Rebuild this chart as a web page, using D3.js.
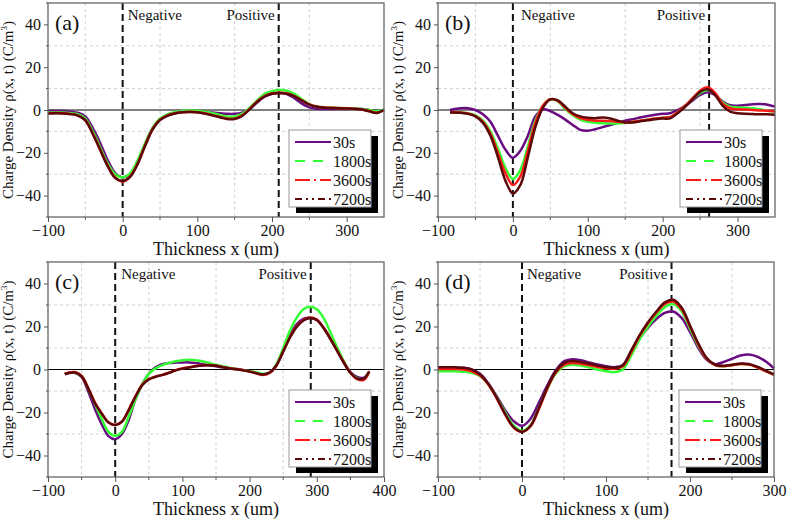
<!DOCTYPE html>
<html>
<head>
<meta charset="utf-8">
<script src="https://cdn.jsdelivr.net/npm/d3@7"></script>
<style>
  html, body { margin: 0; padding: 0; background: #fff; }
  svg { display: block; font-family: "Liberation Serif", "Times New Roman", serif; }
</style>
</head>
<body>
<svg id="chart" width="787" height="523"></svg>
<script>
// ---------- data ----------
const seriesNames = ["30s", "1800s", "3600s", "7200s"];
const yTicks = [-40, -20, 0, 20, 40];
const yLabel = "Charge Density ρ(x, t) (C/m";
const xLabel = "Thickness x (um)";
const panelLabels = ["(a)", "(b)", "(c)", "(d)"];
const xTicksA = [-100, 0, 100, 200, 300];
const xTicksB = [-100, 0, 100, 200, 300];
const xTicksC = [-100, 0, 100, 200, 300, 400];
const xTicksD = [-100, 0, 100, 200, 300];
const positiveAt = [209, 262, 291, 178];

const xsA = [-100,-80,-60,-50,-40,-30,-20,-10,0,10,20,30,40,50,60,70,80,90,100,110,120,130,140,150,160,170,180,190,200,210,220,230,240,250,260,270,280,300,320,330,340,350];
const a30 = [-0.5,-0.5,-1.3,-3,-8.5,-15.5,-23.5,-29.5,-31.5,-30,-24,-16,-8.5,-4.5,-2.2,-1.2,-0.7,-0.5,-0.5,-0.8,-1.2,-1.5,-1.8,-1.8,-1.2,0.5,3.5,6.2,7.6,8,7.5,5.5,3,1.2,0.6,0.5,0.5,0.5,0.5,0,-0.3,0];
const a1800 = [-1.2,-1.2,-2,-4,-10,-17.5,-25,-30,-31.5,-29.5,-23.5,-15.5,-8.5,-4,-2,-1,-0.5,-0.2,-0.3,-0.8,-1.5,-2.3,-3,-3,-1.8,1,4.5,7.5,8.8,9.3,9,7.5,5,2.8,1.6,1.2,1,0.8,0.5,0,-0.5,0];
const a3600 = [-1.5,-1.5,-2.5,-4.7,-11,-18.5,-26,-31.5,-33.5,-31,-25,-16.5,-9,-4.5,-2.5,-1.5,-1,-0.8,-1,-1.5,-2.3,-3.2,-4,-4,-2.5,0.5,4,6.5,7.8,8.1,7.8,6.5,4.5,2.6,1.6,1.2,1,0.8,0.3,-0.5,-1.3,0];
const a7200 = [-1.6,-1.6,-2.6,-4.8,-11.2,-18.8,-26.3,-31.8,-33.2,-31.2,-25.3,-16.8,-9.2,-4.7,-2.7,-1.6,-1.1,-0.9,-1.1,-1.7,-2.5,-3.4,-4.2,-4.2,-2.8,0.3,3.8,6.3,7.6,7.9,7.6,6.4,4.4,2.5,1.5,1.1,0.9,0.7,0.2,-0.6,-1.4,0];

const xsB = [-84,-70,-60,-50,-40,-30,-20,-10,0,10,20,30,40,50,60,70,80,90,100,110,120,130,140,150,160,170,180,190,200,210,220,230,240,250,260,270,280,290,300,310,320,330,340,350];
const b30 = [0,0.8,0.8,0,-2,-5.5,-12,-18.5,-22.3,-19,-12,-3,0.3,-0.5,-2.3,-4.5,-7,-9.3,-9.7,-9,-8,-7,-6,-5,-4.3,-3.5,-2.8,-2.2,-1.8,-1.5,0,2,4.5,7,8.3,7,4,2.2,2,2.3,2.7,2.8,2.5,1.6];
const b1800 = [-1,-1.2,-1.5,-2.5,-5,-10,-18,-27,-32.3,-28,-17,-5,2,5,4,0.5,-2.5,-4.5,-5.5,-6,-6.2,-6.3,-6.3,-6,-5.5,-5,-4.5,-4,-3.6,-3.3,-1,2,5,8,9.4,7.5,3.5,1.6,1.2,1,0.8,0.3,-0.3,-0.7];
const b3600 = [-1,-1.2,-1.6,-2.8,-5.5,-11,-20,-29.5,-35,-31,-19,-6,2,5,4.3,1,-2,-3.8,-4.6,-5,-5,-5.2,-5.5,-5.8,-5.5,-5,-4.5,-4,-3.6,-3.3,-1,2,5.5,9,10.6,8,3,0.8,0.3,0.2,0,-0.2,-0.4,-0.7];
const b7200 = [-1.2,-1.3,-1.8,-3,-6,-12,-22,-33,-39,-35,-22,-8,1,5,4.5,1.5,-1.5,-3,-3.6,-3.8,-3.5,-4,-5,-5.8,-5.8,-5.3,-4.8,-4.3,-4,-3.9,-1.5,1.5,5,8.5,9.7,7,2,-0.8,-1.5,-1.8,-1.9,-2,-2,-2.2];

const xsC = [-75,-70,-60,-50,-40,-30,-20,-10,0,10,20,30,40,50,60,70,80,90,100,110,120,130,140,150,160,170,180,190,200,210,220,230,240,250,260,270,280,290,300,310,320,330,340,350,360,370,378];
const c30 = [-2,-1.6,-1.5,-3.5,-10.3,-18.5,-25.5,-31,-32.4,-30,-23.5,-14,-7,-2,1,2.5,3,3.2,3.3,3.3,3,2.5,2,1.5,1,0.6,0.2,-0.2,-0.8,-1.5,-2.3,-1.5,2,9,16,21,23.5,24,23,19.5,14.5,9,3.5,-1.2,-3.5,-3.8,-1];
const c1800 = [-2,-1.6,-1.5,-3,-9,-16,-23,-29,-30.8,-29,-22,-14,-7,-2,0.5,2,3,3.8,4.3,4.5,4.3,3.8,3,2.2,1.5,0.8,0.2,-0.3,-0.8,-1.3,-2,-1.5,2.5,10,18,24,28,29.2,28,24,17.5,10.5,4,-1.5,-4,-4.5,-1];
const c3600 = [-2,-1.5,-1.2,-3,-8.7,-15.5,-20.4,-24.5,-25.8,-24.2,-18.8,-12.5,-7.2,-4.5,-3.3,-2.5,-1.5,-0.3,0.5,1,1.6,2,2.1,1.8,1.2,0.6,0.2,-0.3,-1,-1.8,-2.5,-1.5,2,8.5,15,20,23,24.2,23.2,19.5,14.5,9,3.5,-1.5,-4.5,-4.8,-1];
const c7200 = [-2.2,-1.7,-1.4,-3.2,-9,-15.8,-20.6,-24.7,-25.8,-24.3,-19,-12.7,-7.4,-4.6,-3.4,-2.6,-1.6,-0.4,0.4,0.9,1.5,1.9,2,1.7,1.1,0.5,0.1,-0.4,-1,-1.7,-2.3,-1.3,2,8.3,14.8,19.8,22.8,24,23,19.3,14.3,8.8,3.2,-1.5,-4.2,-4.3,-0.8];

const xsD = [-100,-90,-80,-70,-60,-50,-40,-30,-20,-10,0,10,20,30,40,50,60,70,80,90,100,110,120,130,140,150,160,170,180,190,200,210,220,230,240,250,260,270,280,290,300];
const d30 = [1,1,1,0.8,0,-2,-6.5,-12.5,-19,-24,-26.2,-23,-15.5,-7.5,-0.5,3.8,4.8,4.3,3.3,2.3,1.5,1.1,2,8.5,14.5,19.5,23.5,26.3,27,24,17.5,10,4.5,2.5,3.5,5,6.5,7,6,3.8,0.5];
const d1800 = [-0.8,-0.8,-0.8,-1,-1.5,-3,-7,-13,-20,-26,-28.5,-26,-18,-9,-2,1.5,2.2,1.8,1,0,-0.8,-1.2,0,6.5,14,20,25,29,30.4,27,19,11,5,2,1.5,2,2.5,2.3,1,-0.8,-2.5];
const d3600 = [0.2,0.2,0.2,0,-0.8,-2.8,-7,-13.5,-21,-27,-29,-26.5,-18.5,-9,-1.5,2.2,3,2.7,2,1.2,0.6,0.4,1.5,8,15.5,21.5,26.5,30.5,31.6,28,20,11.5,5,2,1.5,2,2.5,2.3,1,-0.8,-2.5];
const d7200 = [1,1,1,0.8,0,-2.3,-6.8,-13.2,-20.8,-26.8,-29,-26.3,-18,-8.5,-1,3,3.9,3.5,2.7,1.8,1.1,0.8,2,8.8,16,22,27,31.2,32.4,28.8,20.5,12,5.3,2.2,1.8,2.2,2.8,2.6,1.3,-0.5,-2.3];

// ---------- styling / layout ----------
const colors = ["#680c80", "#33ff33", "#ff1a1a", "#5c0808"];
const legendDash = [null, "10,8", "15,4,2,4", "7,4,2,4,2,4"];
const serif = "'Liberation Serif', 'Times New Roman', serif";

const panels = [
  { xs: xsA, ys: [a30, a1800, a3600, a7200], ticks: xTicksA, dom: [-100, 350], L: 48,  R: 384, T: 3,   B: 217, negDx: 5 },
  { xs: xsB, ys: [b30, b1800, b3600, b7200], ticks: xTicksB, dom: [-100, 350], L: 438, R: 775, T: 3,   B: 217, negDx: 8 },
  { xs: xsC, ys: [c30, c1800, c3600, c7200], ticks: xTicksC, dom: [-100, 400], L: 48,  R: 384, T: 262, B: 477, negDx: 6 },
  { xs: xsD, ys: [d30, d1800, d3600, d7200], ticks: xTicksD, dom: [-100, 300], L: 438, R: 774, T: 262, B: 477, negDx: 5 }
];

const svg = d3.select("#chart");
svg.append("rect").attr("width", 787).attr("height", 523).attr("fill", "#fff");

panels.forEach((p, pi) => {
  const x = d3.scaleLinear().domain(p.dom).range([p.L, p.R]);
  const y = d3.scaleLinear().domain([-50, 50]).range([p.B, p.T]);
  const g = svg.append("g").style("font-family", serif);

  // minor grid (odd multiples of 50 in x, 10 in y)
  const xMinor = d3.range(p.dom[0] + 50, p.dom[1], 100);
  const yMinor = [-30, -10, 10, 30];
  g.selectAll(".gx").data(xMinor).join("line")
    .attr("x1", d => x(d)).attr("x2", d => x(d)).attr("y1", p.T).attr("y2", p.B)
    .attr("stroke", "#d0d0d0").attr("stroke-width", 1).attr("stroke-dasharray", "3,3");
  g.selectAll(".gy").data(yMinor).join("line")
    .attr("x1", p.L).attr("x2", p.R).attr("y1", d => y(d)).attr("y2", d => y(d))
    .attr("stroke", "#d0d0d0").attr("stroke-width", 1).attr("stroke-dasharray", "3,3");

  // zero line
  g.append("line").attr("x1", p.L).attr("x2", p.R).attr("y1", y(0)).attr("y2", y(0))
    .attr("stroke", "#000").attr("stroke-width", 1);

  // dashed markers
  [0, positiveAt[pi]].forEach(v => {
    g.append("line").attr("x1", x(v)).attr("x2", x(v)).attr("y1", p.T).attr("y2", p.B)
      .attr("stroke", "#111").attr("stroke-width", 2).attr("stroke-dasharray", "7,4");
  });
  g.append("text").attr("x", x(0) + p.negDx).attr("y", p.T + 17)
    .attr("font-size", 15).attr("fill", "#111").text("Negative");
  g.append("text").attr("x", x(positiveAt[pi]) - 4).attr("y", p.T + 17)
    .attr("text-anchor", "end").attr("font-size", 15).attr("fill", "#111").text("Positive");

  // curves
  const line = d3.line().x(d => x(d[0])).y(d => y(d[1])).curve(d3.curveCatmullRom.alpha(0.5));
  p.ys.forEach((vals, si) => {
    const pts = p.xs.map((xv, i) => [xv, vals[i]]);
    g.append("path").attr("d", line(pts)).attr("fill", "none")
      .attr("stroke", colors[si]).attr("stroke-width", 2.5).attr("stroke-linejoin", "round");
  });

  // frame
  g.append("rect").attr("x", p.L).attr("y", p.T).attr("width", p.R - p.L).attr("height", p.B - p.T)
    .attr("fill", "none").attr("stroke", "#666").attr("stroke-width", 1.3);

  // axes
  const xAxis = d3.axisBottom(x).tickValues(p.ticks).tickSize(5).tickPadding(3).tickFormat(d3.format("d"));
  const ax = g.append("g").attr("transform", `translate(0,${p.B})`).call(xAxis);
  ax.select(".domain").remove();
  ax.selectAll("text").attr("font-size", 16).style("font-family", serif).attr("fill", "#111");
  ax.selectAll("line").attr("stroke", "#555");
  g.selectAll(".mx").data(xMinor).join("line")
    .attr("x1", d => x(d)).attr("x2", d => x(d)).attr("y1", p.B).attr("y2", p.B + 3).attr("stroke", "#555");

  const yAxis = d3.axisLeft(y).tickValues(yTicks).tickSize(4).tickPadding(3).tickFormat(d3.format("d"));
  const ay = g.append("g").attr("transform", `translate(${p.L},0)`).call(yAxis);
  ay.select(".domain").remove();
  ay.selectAll("text").attr("font-size", 16).style("font-family", serif).attr("fill", "#111");
  ay.selectAll("line").attr("stroke", "#555");
  g.selectAll(".my").data([-50, -30, -10, 10, 30, 50]).join("line")
    .attr("x1", p.L - 2).attr("x2", p.L).attr("y1", d => y(d)).attr("y2", d => y(d)).attr("stroke", "#555");

  // axis titles
  g.append("text").attr("x", (p.L + p.R) / 2).attr("y", p.B + 38)
    .attr("text-anchor", "middle").attr("font-size", 18).attr("fill", "#111").text(xLabel);
  const yt = g.append("text")
    .attr("transform", `translate(${p.L - 35},${(p.T + p.B) / 2}) rotate(-90)`)
    .attr("text-anchor", "middle").attr("font-size", 15).attr("fill", "#111");
  yt.append("tspan").text(yLabel);
  yt.append("tspan").attr("font-size", 9).attr("dy", -6).text("3");
  yt.append("tspan").attr("dy", 6).text(")");

  // panel label
  g.append("text").attr("x", p.L + 7).attr("y", p.T + 27).attr("font-size", 22).attr("fill", "#111").text(panelLabels[pi]);

  // legend
  const lx = p.R - 95, ly = p.B - 87, lw = 82, lh = 77;
  g.append("rect").attr("x", lx + 7).attr("y", ly + 6).attr("width", lw).attr("height", lh).attr("fill", "#000");
  g.append("rect").attr("x", lx).attr("y", ly).attr("width", lw).attr("height", lh)
    .attr("fill", "#fff").attr("stroke", "#999").attr("stroke-width", 1);
  seriesNames.forEach((name, si) => {
    const ry = ly + 12 + si * 19;
    const ln = g.append("line").attr("x1", lx + 6).attr("x2", lx + 42).attr("y1", ry).attr("y2", ry)
      .attr("stroke", colors[si]).attr("stroke-width", 2.2);
    if (legendDash[si]) ln.attr("stroke-dasharray", legendDash[si]);
    g.append("text").attr("x", lx + 44).attr("y", ry).attr("dy", "0.35em")
      .attr("font-size", 16).attr("fill", "#111").text(name);
  });
});
</script>
</body>
</html>
